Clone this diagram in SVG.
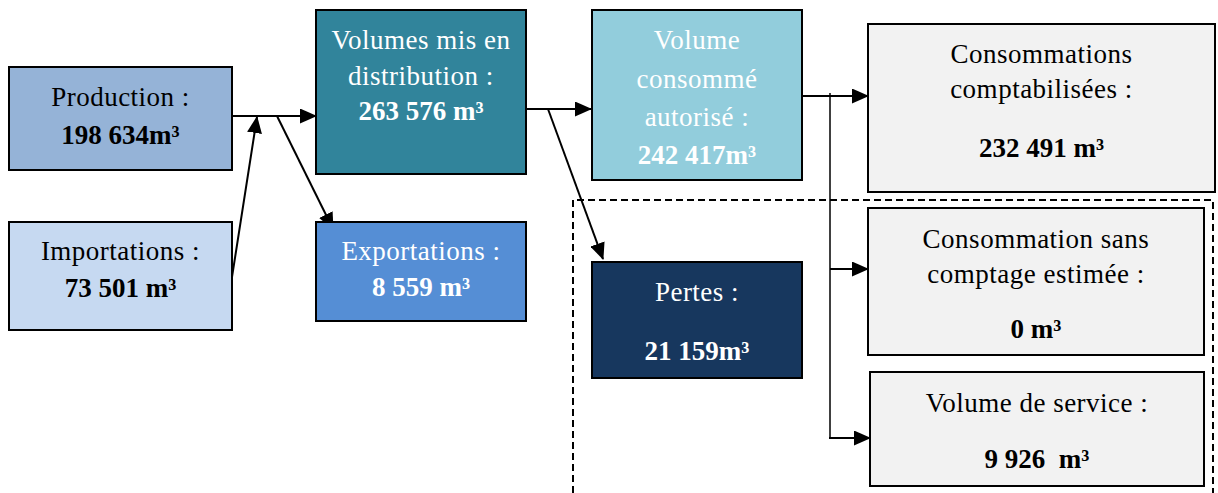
<svg xmlns="http://www.w3.org/2000/svg" width="1218" height="493" viewBox="0 0 1218 493">
<style>
.box{stroke:#000;stroke-width:2}
text{font-family:"Palatino Linotype","Book Antiqua",Palatino,"Liberation Serif",serif;font-size:27px;text-anchor:middle;letter-spacing:0.5px}
.b{font-weight:bold;letter-spacing:0}
.w{fill:#fff}
.k{fill:#000}
.conn{stroke:#000;stroke-width:2;fill:none}
</style>
<defs>
<marker id="arr" markerUnits="userSpaceOnUse" markerWidth="17" markerHeight="15" refX="16" refY="7.5" orient="auto">
<path d="M0,0 L17,7.5 L0,15 Z" fill="#000"/>
</marker>
</defs>
<rect x="0" y="0" width="1218" height="493" fill="#fff"/>
<path d="M573,493 V200 H1213 V493" fill="none" stroke="#000" stroke-width="2" stroke-dasharray="7 4"/>
<g id="connectors">
<line class="conn" x1="232" y1="116" x2="316" y2="116" marker-end="url(#arr)"/>
<line class="conn" x1="232" y1="277" x2="257" y2="117" marker-end="url(#arr)"/>
<line class="conn" x1="277" y1="116" x2="333" y2="229" marker-end="url(#arr)"/>
<line class="conn" x1="526" y1="109" x2="591" y2="109" marker-end="url(#arr)"/>
<line class="conn" x1="548" y1="109" x2="603" y2="259" marker-end="url(#arr)"/>
<line class="conn" x1="802" y1="96" x2="868" y2="96" marker-end="url(#arr)"/>
<line x1="830" y1="93" x2="830" y2="439" stroke="#000" stroke-width="1.5"/>
<line class="conn" x1="830" y1="269" x2="868" y2="269" marker-end="url(#arr)"/>
<line class="conn" x1="829" y1="438" x2="870" y2="438" marker-end="url(#arr)"/>
</g>
<g id="production">
<rect class="box" x="9" y="67" width="223" height="103" fill="#95B3D7"/>
<text class="k" x="120.5" y="106">Production :</text>
<text class="k b" x="120.5" y="144">198 634m³</text>
</g>
<g id="importations">
<rect class="box" x="9" y="222" width="223" height="108" fill="#C6D9F1"/>
<text class="k" x="120.5" y="260">Importations :</text>
<text class="k b" x="120.5" y="297">73 501 m³</text>
</g>
<g id="distribution">
<rect class="box" x="316" y="10" width="210" height="164" fill="#31849B"/>
<text class="w" x="421" y="49">Volumes mis en</text>
<text class="w" x="421" y="85">distribution :</text>
<text class="w b" x="421" y="120">263 576 m³</text>
</g>
<g id="exportations">
<rect class="box" x="316" y="222" width="210" height="99" fill="#558ED5"/>
<text class="w" x="421" y="260">Exportations :</text>
<text class="w b" x="421" y="296">8 559 m³</text>
</g>
<g id="consomme">
<rect class="box" x="592" y="10" width="210" height="170" fill="#92CDDC"/>
<text class="w" x="697" y="49">Volume</text>
<text class="w" x="697" y="88">consommé</text>
<text class="w" x="697" y="126">autorisé :</text>
<text class="w b" x="697" y="164">242 417m³</text>
</g>
<g id="pertes">
<rect class="box" x="592" y="262" width="210" height="116" fill="#17375E"/>
<text class="w" x="697" y="301">Pertes :</text>
<text class="w b" x="697" y="360">21 159m³</text>
</g>
<g id="comptabilisees">
<rect class="box" x="868" y="24" width="347" height="168" fill="#F2F2F2"/>
<text class="k" x="1041.5" y="63">Consommations</text>
<text class="k" x="1041.5" y="98">comptabilisées :</text>
<text class="k b" x="1041.5" y="157">232 491 m³</text>
</g>
<g id="sans-comptage">
<rect class="box" x="868" y="208" width="336" height="147" fill="#F2F2F2"/>
<text class="k" x="1036" y="248">Consommation sans</text>
<text class="k" x="1036" y="283">comptage estimée :</text>
<text class="k b" x="1036" y="338">0 m³</text>
</g>
<g id="service">
<rect class="box" x="870" y="372" width="334" height="114" fill="#F2F2F2"/>
<text class="k" x="1037" y="412">Volume de service :</text>
<text class="k b" x="1037" y="468" xml:space="preserve">9 926  m³</text>
</g>
</svg>
